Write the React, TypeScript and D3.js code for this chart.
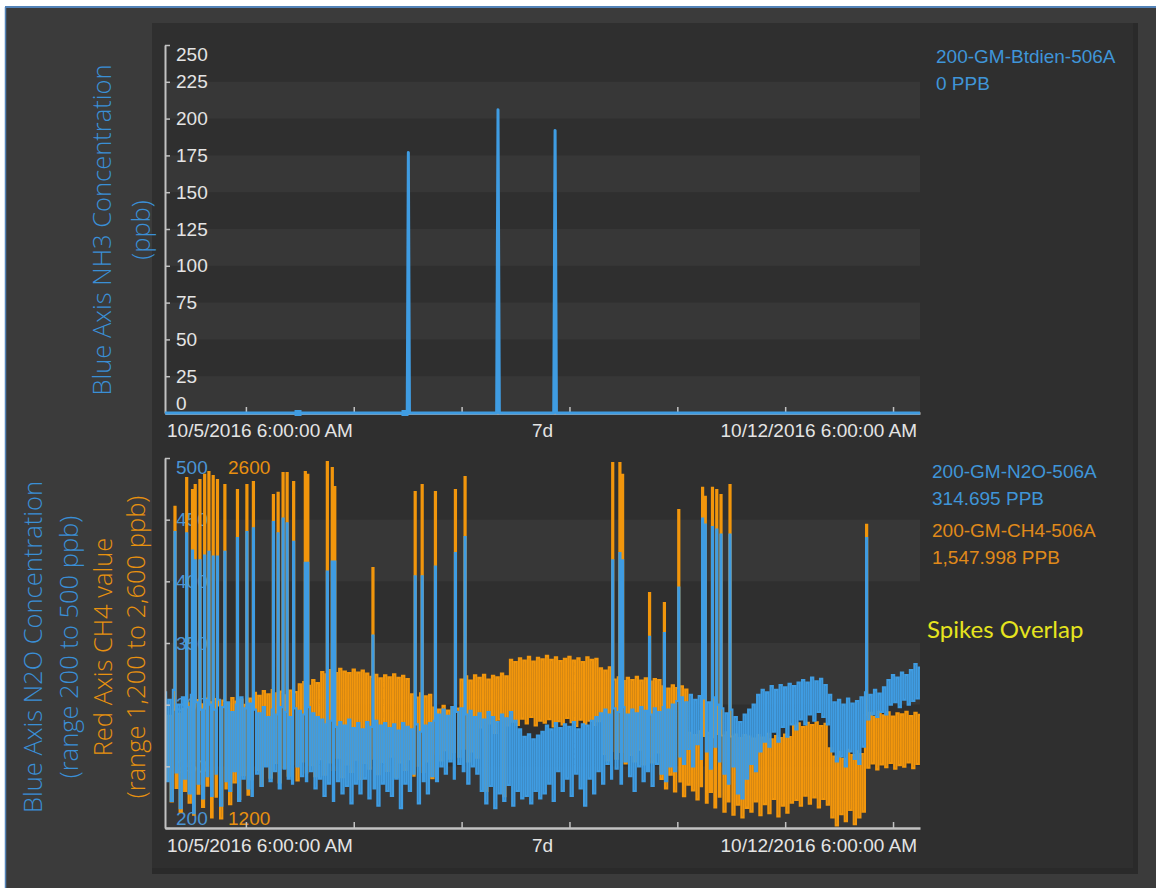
import React, { useEffect, useRef } from "react";
import * as d3 from "d3";

type Pt = { h: number; v: number };

// shared time window (7 days)
const startTime = new Date(2016, 9, 5, 6, 0, 0);
const endTime = new Date(2016, 9, 12, 6, 0, 0);
const xLabels = ["10/5/2016 6:00:00 AM", "7d", "10/12/2016 6:00:00 AM"];

// top panel: NH3, hours from start
const nh3Hours = [0, 29.6, 53.4, 53.9, 54.15, 54.4, 73.8, 74.1, 74.4, 86.5, 86.8, 87.1, 168];
const nh3Values = [0, 0, 0, 0, 177, 0, 0, 206, 0, 0, 192, 0, 0];
const nh3MarkerHours = [29.6, 53.4];
const nh3Ticks = [0, 25, 50, 75, 100, 125, 150, 175, 200, 225, 250];
const nh3Title = ["Blue Axis NH3 Concentration", "(ppb)"];
const nh3Legend = ["200-GM-Btdien-506A", "0 PPB"];

// bottom panel: hourly high / low readings
const n2oHi = [
  310, 304, 312, 300, 306, 298, 308, 302, 296, 304,
  300, 296, 304, 298, 302, 294, 300, 306, 297, 301,
  296, 293, 298, 290, 296, 292, 298, 294, 290, 297,
  295, 292, 298, 293, 290, 288, 284, 287, 282, 286,
  283, 288, 281, 285, 280, 286, 282, 287, 283, 285,
  281, 284, 279, 285, 282, 280, 284, 278, 283, 285,
  287, 292, 296, 291, 298, 294, 297, 292, 295, 290,
  293, 288, 294, 290, 286, 292, 289, 294, 287, 280,
  274, 276, 272, 275, 278, 283, 280, 285, 281, 284,
  282, 286, 280, 284, 283, 287, 290, 293, 296, 292,
  297, 294, 298, 292, 296, 293, 298, 295, 292, 297,
  294, 298, 296, 300, 303, 306, 302, 308, 304, 307,
  305, 302, 306, 300, 297, 293, 296, 290, 286, 292,
  296, 300, 308, 312, 310, 315, 312, 316, 314, 317,
  315, 318, 320, 318, 322, 319, 321, 316, 308, 302,
  304, 300, 305, 301, 303, 306, 310, 308, 312, 309,
  314, 320, 324, 322, 326, 324, 328, 333, 330,
];
const n2oLo = [
  238, 222, 245, 216, 240, 228, 212, 236, 224, 242,
  226, 244, 218, 238, 230, 246, 222, 240, 232, 226,
  244, 234, 250, 238, 246, 232, 248, 240, 236, 250,
  242, 238, 246, 232, 240, 226, 236, 222, 238, 228,
  234, 220, 236, 228, 240, 224, 232, 218, 236, 230,
  226, 240, 216, 236, 230, 244, 220, 238, 228, 242,
  238, 250, 244, 254, 240, 252, 246, 236, 250, 244,
  230, 220, 234, 216, 228, 222, 235, 218, 230, 224,
  226, 220, 230, 224, 228, 236, 222, 246, 230, 240,
  226, 244, 232, 218, 240, 228, 246, 236, 252, 240,
  248, 236, 254, 242, 230, 250, 238, 246, 234, 252,
  244, 238, 250, 246, 258, 252, 264, 250, 268, 256,
  262, 248, 266, 254, 244, 236, 250, 228, 224, 240,
  252, 246, 262, 270, 266, 278, 270, 282, 274, 284,
  280, 288, 284, 292, 287, 294, 290, 284, 262, 254,
  258, 250, 262, 256, 252, 266, 288, 292, 290, 294,
  292, 300, 302, 298, 304, 300, 303, 305, 302,
];
const ch4Hi = [
  1640, 1625, 1648, 1632, 1650, 1672, 1660, 1684, 1668, 1690,
  1676, 1688, 1664, 1682, 1670, 1692, 1678, 1686, 1666, 1690,
  1712, 1700, 1718, 1706, 1722, 1710, 1716, 1702, 1720, 1714,
  1744, 1752, 1738, 1760, 1748, 1790, 1782, 1798, 1786, 1802,
  1792, 1786, 1800, 1788, 1796, 1784, 1772, 1780, 1766, 1778,
  1770, 1782, 1768, 1776, 1764, 1706, 1694, 1710, 1698, 1704,
  1656, 1648, 1662, 1644, 1658, 1652, 1762, 1774, 1758, 1778,
  1768, 1780, 1762, 1776, 1770, 1784, 1774, 1836, 1828, 1842,
  1834, 1848, 1830, 1844, 1838, 1852, 1836, 1846, 1832, 1840,
  1848, 1834, 1842, 1828, 1846, 1836, 1840, 1804, 1796, 1808,
  1762, 1770, 1756, 1768, 1760, 1772, 1758, 1766, 1754, 1764,
  1760, 1736, 1728, 1740, 1730, 1736, 1724, 1560, 1552, 1566,
  1548, 1560, 1544, 1556, 1550, 1562, 1546, 1554, 1540, 1552,
  1546, 1538, 1552, 1542, 1556, 1536, 1548, 1540, 1554, 1544,
  1588, 1596, 1582, 1598, 1590, 1600, 1586, 1594, 1502, 1470,
  1488, 1462, 1496, 1476, 1490, 1480, 1628, 1636, 1620, 1640,
  1626, 1638, 1622, 1634, 1630, 1640, 1624, 1636, 1628,
];
const ch4Lo = [
  1380, 1300, 1352, 1262, 1340, 1296, 1250, 1330, 1280, 1360,
  1240, 1318, 1236, 1350, 1290, 1372, 1310, 1400, 1326, 1384,
  1420, 1360, 1436, 1390, 1446, 1372, 1428, 1398, 1440, 1380,
  1452, 1410, 1438, 1396, 1460, 1402, 1448, 1420, 1466, 1392,
  1440, 1412, 1458, 1386, 1446, 1424, 1462, 1404, 1450, 1416,
  1470, 1392, 1448, 1420, 1460, 1398, 1436, 1412, 1452, 1388,
  1480, 1456, 1494, 1462, 1488, 1470, 1500, 1452, 1490, 1466,
  1580, 1340, 1596, 1560, 1610, 1320, 1588, 1602, 1590, 1614,
  1596, 1620, 1588, 1606, 1598, 1612, 1584, 1604, 1592, 1616,
  1600, 1586, 1610, 1594, 1606, 1590, 1604, 1480, 1456, 1492,
  1462, 1488, 1444, 1476, 1452, 1496, 1440, 1470, 1448, 1486,
  1386, 1350, 1402, 1338, 1376, 1320, 1364, 1342, 1308, 1358,
  1296, 1336, 1278, 1318, 1262, 1300, 1250, 1288, 1240, 1276,
  1262, 1300, 1248, 1290, 1256, 1310, 1244, 1284, 1258, 1296,
  1306, 1284, 1322, 1292, 1316, 1278, 1310, 1288, 1240, 1210,
  1252, 1226, 1268, 1214, 1240, 1262, 1428, 1444, 1422, 1440,
  1430, 1446, 1424, 1438, 1432, 1448, 1426, 1442, 1436,
];
// simultaneous spikes on both gases
const spikeHours = [
  2.2, 4.9, 6.0, 6.7, 7.8, 8.9, 9.8, 10.7, 11.6, 13.4,
  16.0, 18.2, 19.6, 24.0, 25.1, 26.3, 27.1, 28.5, 31.2, 31.8,
  36.0, 37.2, 37.8, 46.3, 55.6, 57.2, 60.1, 64.5, 66.8, 99.5,
  101.2, 101.9, 107.9, 111.0, 114.4, 119.5, 120.2, 121.9, 122.8, 123.7,
  125.7, 156.0,
];
const spikeN2O = [
  440, 439, 425, 417, 417, 421, 424, 420, 420, 424,
  435, 440, 443, 448, 439, 451, 447, 432, 415, 415,
  408, 416, 416, 356, 404, 404, 412, 423, 436, 417,
  423, 417, 355, 358, 395, 451, 446, 444, 442, 438,
  438, 435,
];
const spikeCH4 = [
  2415, 2524, 2479, 2498, 2517, 2536, 2547, 2532, 2517, 2498,
  2479, 2498, 2509, 2460, 2468, 2543, 2543, 2509, 2547, 2536,
  2585, 2562, 2490, 2184, 2471, 2498, 2471, 2479, 2528, 2581,
  2581, 2536, 2089, 2051, 2403, 2487, 2453, 2487, 2479, 2460,
  2498, 2347,
];
const n2oTicks = [200, 250, 300, 350, 400, 450, 500];
const ch4Ticks = [1200, 2600];
const n2oTitle = ["Blue Axis N2O Concentration", "(range 200 to 500 ppb)"];
const ch4Title = ["Red Axis CH4 value", "(range 1,200 to 2,600 ppb)"];
const n2oLegend = ["200-GM-N2O-506A", "314.695 PPB"];
const ch4Legend = ["200-GM-CH4-506A", "1,547.998 PPB"];
const noteText = "Spikes Overlap";

const BLUE = "#3f9ce2";
const ORANGE = "#f2960c";
const AXIS = "#c2c2c2";
const TICK_TEXT = "#e4e4e4";
const LABEL_FONT = "'Liberation Sans', Arial, sans-serif";
const TITLE_FONT = "'Open Sans', 'Noto Sans', sans-serif";

const hourToDate = (h: number) => new Date(startTime.getTime() + h * 3600 * 1000);

// readings alternate high / low every half hour, spikes merged in by time
const buildSeries = (hi: number[], lo: number[], sh: number[], sv: number[]): Pt[] => {
  const pts: Pt[] = [];
  hi.forEach((v, i) => {
    pts.push({ h: i, v });
    pts.push({ h: i + 0.5, v: lo[i] });
  });
  sh.forEach((h, i) => pts.push({ h, v: sv[i] }));
  pts.sort((a, b) => a.h - b.h);
  return pts;
};

const App = () => {
  const svgRef = useRef<SVGSVGElement>(null);

  useEffect(() => {
    drawChart();
  }, []);

  const drawChart = () => {
    const svg = d3.select(svgRef.current);
    svg.selectAll("*").remove();
    svg.attr("font-family", LABEL_FONT);

    const width = 1156;
    const height = 888;

    // frame
    svg.append("rect").attr("width", width).attr("height", height).attr("fill", "#ffffff");
    svg.append("rect").attr("x", 5).attr("y", 7).attr("width", width - 5).attr("height", height - 7).attr("fill", "#3b3b3b");
    svg.append("line").attr("x1", 5).attr("x2", width).attr("y1", 7).attr("y2", 7).attr("stroke", "#5383b8").attr("stroke-width", 2);
    svg.append("line").attr("x1", 5.5).attr("x2", 5.5).attr("y1", 7).attr("y2", height).attr("stroke", "#5383b8").attr("stroke-width", 1.5);
    svg.append("rect").attr("x", 152).attr("y", 23).attr("width", 986).attr("height", 851).attr("fill", "#2f2f2f");
    svg.append("rect").attr("x", 1133).attr("y", 23).attr("width", 5).attr("height", 851).attr("fill", "#2a2a2a");
    svg.append("rect").attr("x", 152).attr("y", 868).attr("width", 986).attr("height", 6).attr("fill", "#2a2a2a");

    // scales
    const x = d3.scaleTime().domain([startTime, endTime]).range([165, 920]);
    const yTop = d3.scaleLinear().domain([0, 250]).range([413, 45]);
    const yN2O = d3.scaleLinear().domain([200, 500]).range([828, 458]);
    const yCH4 = d3.scaleLinear().domain([1200, 2600]).range([828, 458]);

    const bands = (ticks: number[], scale: d3.ScaleLinear<number, number>) => {
      svg
        .append("g")
        .selectAll("rect")
        .data(d3.pairs(ticks).filter((_, i) => i % 2 === 0))
        .join("rect")
        .attr("x", 166)
        .attr("width", 754)
        .attr("y", (d) => scale(d[1]))
        .attr("height", (d) => scale(d[0]) - scale(d[1]))
        .attr("fill", "#373737");
    };

    const yLabels = (ticks: number[], scale: d3.ScaleLinear<number, number>, xPos: number, color: string) => {
      const lo = d3.min(ticks);
      const hi = d3.max(ticks);
      svg
        .append("g")
        .selectAll("text")
        .data(ticks)
        .join("text")
        .attr("x", xPos)
        .attr("y", (d) => scale(d) + (d === hi ? 16 : d === lo ? -3 : 6.5))
        .attr("fill", color)
        .attr("font-size", 19)
        .text((d) => d);
    };

    const axes = (scale: d3.ScaleLinear<number, number>, ticks: number[], baseY: number) => {
      const gy = svg
        .append("g")
        .attr("transform", "translate(165,0)")
        .call(d3.axisRight(scale).tickValues(ticks).tickSize(5).tickSizeOuter(0).tickFormat(() => ""));
      gy.select(".domain").attr("stroke", AXIS).attr("stroke-width", 2);
      gy.selectAll(".tick line").attr("stroke", AXIS).attr("stroke-width", 1.5);

      const gx = svg
        .append("g")
        .attr("transform", `translate(0,${baseY})`)
        .call(d3.axisBottom(x).ticks(d3.timeDay.every(1)).tickSize(-6).tickSizeOuter(0).tickFormat(() => ""));
      gx.select(".domain").attr("stroke", AXIS).attr("stroke-width", 2.5);
      gx.selectAll(".tick line").attr("stroke", AXIS).attr("stroke-width", 1.5);

      const xs = [x(startTime) + 2, (x(startTime) + x(endTime)) / 2, x(endTime) - 3];
      const anchors = ["start", "middle", "end"];
      svg
        .append("g")
        .selectAll("text")
        .data(xLabels)
        .join("text")
        .attr("x", (_, i) => xs[i])
        .attr("y", baseY + 24)
        .attr("text-anchor", (_, i) => anchors[i])
        .attr("fill", TICK_TEXT)
        .attr("font-size", 19)
        .text((d) => d);
    };

    const title = (cx: number, cy: number, text: string, color: string, size: number) => {
      svg
        .append("text")
        .attr("transform", `translate(${cx},${cy}) rotate(-90)`)
        .attr("text-anchor", "middle")
        .attr("dominant-baseline", "central")
        .attr("font-family", TITLE_FONT)
        .attr("font-weight", 300)
        .attr("font-size", size)
        .attr("fill", color)
        .text(text);
    };

    const legend = (lines: string[], x0: number, y0: number, color: string) => {
      svg
        .append("g")
        .selectAll("text")
        .data(lines)
        .join("text")
        .attr("x", x0)
        .attr("y", (_, i) => y0 + i * 27)
        .attr("fill", color)
        .attr("font-size", 19)
        .text((d) => d);
    };

    // ---- top panel (NH3)
    bands(nh3Ticks, yTop);
    yLabels(nh3Ticks, yTop, 176, TICK_TEXT);
    axes(yTop, nh3Ticks, 413);

    const nh3Line = d3
      .line<number>()
      .x((h) => x(hourToDate(h)))
      .y((_, i) => yTop(nh3Values[i]));
    svg
      .append("path")
      .datum(nh3Hours)
      .attr("fill", "none")
      .attr("stroke", BLUE)
      .attr("stroke-width", 3)
      .attr("stroke-linejoin", "round")
      .attr("d", nh3Line);
    svg
      .append("g")
      .selectAll("rect")
      .data(nh3MarkerHours)
      .join("rect")
      .attr("x", (h) => x(hourToDate(h)) - 3.5)
      .attr("y", yTop(0) - 3)
      .attr("width", 7)
      .attr("height", 6)
      .attr("fill", BLUE);

    title(101, 230, nh3Title[0], "#3a8fd6", 25.5);
    title(140, 230, nh3Title[1], "#3a8fd6", 25.5);
    legend(nh3Legend, 936, 63, "#3f95d8");

    // ---- bottom panel (N2O + CH4)
    bands(n2oTicks, yN2O);
    yLabels(n2oTicks, yN2O, 176, "#4a94d4");
    yLabels(ch4Ticks, yCH4, 228, "#e8900f");

    svg
      .append("clipPath")
      .attr("id", "plot-clip")
      .append("rect")
      .attr("x", 165)
      .attr("y", 450)
      .attr("width", 755)
      .attr("height", 378);

    const ch4Data = buildSeries(ch4Hi, ch4Lo, spikeHours, spikeCH4);
    const n2oData = buildSeries(n2oHi, n2oLo, spikeHours, spikeN2O);

    const ch4Line = d3
      .line<Pt>()
      .curve(d3.curveStep)
      .x((d) => x(hourToDate(d.h)))
      .y((d) => yCH4(d.v));
    const n2oLine = d3
      .line<Pt>()
      .curve(d3.curveStep)
      .x((d) => x(hourToDate(d.h)))
      .y((d) => yN2O(d.v));

    svg
      .append("path")
      .datum(ch4Data)
      .attr("clip-path", "url(#plot-clip)")
      .attr("fill", "none")
      .attr("stroke", ORANGE)
      .attr("stroke-width", 2.1)
      .attr("d", ch4Line);
    svg
      .append("path")
      .datum(n2oData)
      .attr("clip-path", "url(#plot-clip)")
      .attr("fill", "none")
      .attr("stroke", BLUE)
      .attr("stroke-width", 2.1)
      .attr("d", n2oLine);

    axes(yN2O, n2oTicks, 828);

    title(32, 647, n2oTitle[0], "#3a8fd6", 25.5);
    title(68, 647, n2oTitle[1], "#3a8fd6", 25.5);
    title(102, 647, ch4Title[0], "#e8920f", 25.5);
    title(135, 647, ch4Title[1], "#e8920f", 25.5);

    legend(n2oLegend, 932, 478, "#3f95d8");
    legend(ch4Legend, 932, 537, "#e08a1a");

    svg
      .append("text")
      .attr("x", 927)
      .attr("y", 638)
      .attr("font-family", "Lato, 'Noto Sans', sans-serif")
      .attr("font-size", 24)
      .attr("fill", "#e6e41e")
      .text(noteText);
  };

  return <svg ref={svgRef} width={1156} height={888} style={{ position: "absolute", left: 0, top: 0 }}></svg>;
};

export default App;
